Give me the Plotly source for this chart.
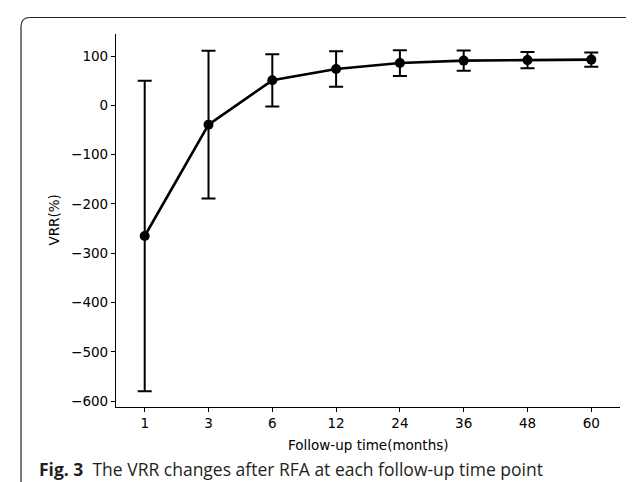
import plotly.graph_objects as go

# ---- data ----
months = ["1", "3", "6", "12", "24", "36", "48", "60"]
vrr_mean = [-265, -39, 51, 74, 86, 91, 92, 93]
vrr_err = [315, 150, 53, 36, 26, 20.5, 16.5, 14.5]
y_ticks = [100, 0, -100, -200, -300, -400, -500, -600]
y_tick_text = ["100", "0", "\u2212100", "\u2212200", "\u2212300", "\u2212400", "\u2212500", "\u2212600"]

W, H = 634, 482
L, R, T, B = 108, 22, 26, 83
PW, PH = W - L - R, H - T - B


def px(x):
    return (x - L) / PW


def py(y):
    return (H - B - y) / PH


fig = go.Figure()
fig.add_trace(go.Scatter(
    x=months, y=vrr_mean,
    mode="lines+markers",
    line=dict(color="black", width=2.6),
    marker=dict(color="black", size=10),
    error_y=dict(type="data", array=vrr_err, visible=True,
                 color="black", thickness=2, width=7),
    showlegend=False,
))

# rounded frame
x0, y0, x1, y1, r = px(13), py(9.5), px(631), py(490), 9
rx, ry = r / PW, r / PH
path = (f"M {x0+rx},{y0} L {x1-rx},{y0} Q {x1},{y0} {x1},{y0-ry} "
        f"L {x1},{y1+ry} Q {x1},{y1} {x1-rx},{y1} L {x0+rx},{y1} "
        f"Q {x0},{y1} {x0},{y1+ry} L {x0},{y0-ry} Q {x0},{y0} {x0+rx},{y0} Z")
fig.add_shape(type="path", path=path, xref="paper", yref="paper",
              line=dict(color="#222", width=1.2), layer="below")

fig.add_annotation(x=px(360), y=py(437), xref="paper", yref="paper",
                   text="Follow-up time(months)", showarrow=False,
                   font=dict(family="DejaVu Sans", size=13.5, color="black"),
                   xanchor="center", yanchor="middle")
fig.add_annotation(x=px(45), y=py(212.5), xref="paper", yref="paper",
                   text="VRR(%)", showarrow=False, textangle=-90,
                   font=dict(family="DejaVu Sans", size=13.5, color="black"),
                   xanchor="center", yanchor="middle")
fig.add_annotation(x=px(29), y=py(461), xref="paper", yref="paper",
                   text="<b>Fig. 3</b>  The VRR changes after RFA at each follow-up time point",
                   showarrow=False,
                   font=dict(family="Open Sans", size=17.5, color="#231f20"),
                   xanchor="left", yanchor="middle")

fig.update_layout(
    width=W, height=H,
    margin=dict(l=L, r=R, t=T, b=B),
    paper_bgcolor="white", plot_bgcolor="white",
    font=dict(family="DejaVu Sans", size=13.5, color="black"),
    showlegend=False,
)
fig.update_xaxes(
    type="category", range=[-0.45, 7.45],
    showline=True, linecolor="black", linewidth=1.2,
    ticks="outside", ticklen=4, tickwidth=1.2, tickcolor="black",
    showgrid=False, zeroline=False,
    tickfont=dict(family="DejaVu Sans", size=13.5, color="black"),
)
fig.update_yaxes(
    range=[-612, 145],
    tickvals=y_ticks, ticktext=y_tick_text,
    showline=True, linecolor="black", linewidth=1.2,
    ticks="outside", ticklen=4, tickwidth=1.2, tickcolor="black",
    showgrid=False, zeroline=False,
    tickfont=dict(family="DejaVu Sans", size=13.5, color="black"),
)

fig.write_html("out.html")
